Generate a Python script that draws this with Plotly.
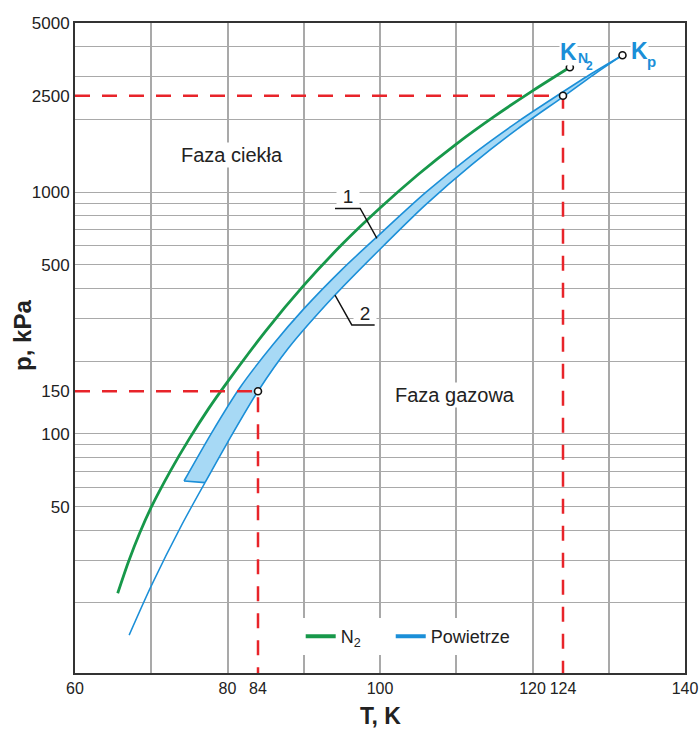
import numpy as np
import plotly.graph_objects as go

# ---------------- data ----------------
# N2 saturation line (T in K, p in kPa)
n2_T = [65.6, 67, 68.5, 70, 72.5, 75, 77.5, 80, 85, 90, 95, 100, 105, 110, 115, 120, 124.9]
n2_p = [21.9, 29.5, 39, 49.7, 70.1, 95.5, 126.8, 164, 266, 411, 606, 858, 1181, 1579, 2055, 2620, 3280]

# Air ("Powietrze"): line 1 (upper edge of band) and line 2 (lower edge)
air1_T = [74.3, 78, 81.6, 86, 90, 95, 100, 106, 112, 118, 123.2, 127.5, 131.8]
air1_p = [63.8, 101.9, 154.7, 234.5, 328.5, 477.7, 670, 996, 1418, 1946, 2500, 3055, 3680]
air2_T = [77.05, 80, 84, 88, 94.1, 100, 106, 112, 118, 124.2, 128, 131.8]
air2_p = [62.8, 92.0, 150, 226.3, 374.8, 580, 887, 1296, 1821, 2500, 3052, 3680]
# thin continuation of line 2 below the band
air2ext_T = [67.1, 70, 74, 77.05]
air2ext_p = [14.7, 23.5, 42.0, 62.8]

# marked points
guide_T = [84, 124]
guide_p = [150, 2500]
crit_N2 = (124.9, 3280)
crit_air = (131.8, 3680)

# leader lines for labels 1 and 2
lead1_T = [94.1, 97.4, 99.6]
lead1_p = [855, 855, 643]
lead2_T = [94.1, 96.3, 99.3]
lead2_p = [374.8, 282, 282]

# axes
x_range = [60, 140]
y_range = [10.25, 5000]
x_ticks = [60, 80, 84, 100, 120, 124, 140]
y_ticks = [50, 100, 150, 500, 1000, 2500, 5000]
x_grid = [70, 80, 90, 100, 110, 120, 130]
y_grid = [20, 30, 40, 50, 60, 70, 80, 90,
          100, 200, 300, 400, 500, 600, 700, 800, 900,
          1000, 2000, 3000, 4000]

# ---------------- styles ----------------
GREEN = "#17984a"
BLUE = "#1b8fd8"
FILL = "#a7d9f5"
RED = "#e8242a"
GRID = "#a9a9a9"
FONT = "Liberation Sans, Arial, sans-serif"
SP = "\u00a0"

fig = go.Figure()

# band fill between line 1 and line 2
band_T = air1_T + air2_T[::-1]
band_p = air1_p + air2_p[::-1]
fig.add_trace(go.Scatter(x=band_T, y=band_p, mode="lines", fill="toself",
                         fillcolor=FILL, line=dict(color=FILL, width=0),
                         showlegend=False, hoverinfo="skip"))
# band edges
for bt, bp in ((air1_T, air1_p), (air2_T, air2_p)):
    fig.add_trace(go.Scatter(x=bt, y=bp, mode="lines",
                             line=dict(color=BLUE, width=1.6, shape="spline", smoothing=0.8),
                             showlegend=False, hoverinfo="skip"))
fig.add_trace(go.Scatter(x=[air1_T[0], air2_T[0]], y=[air1_p[0], air2_p[0]],
                         mode="lines", line=dict(color=BLUE, width=1.6),
                         showlegend=False, hoverinfo="skip"))
fig.add_trace(go.Scatter(x=air2ext_T, y=air2ext_p, mode="lines",
                         line=dict(color=BLUE, width=1.5, shape="spline", smoothing=0.8),
                         showlegend=False, hoverinfo="skip"))
fig.add_trace(go.Scatter(x=n2_T, y=n2_p, mode="lines",
                         line=dict(color=GREEN, width=2.8, shape="spline", smoothing=0.8),
                         showlegend=False))

# red guide lines
for t, p in zip(guide_T, guide_p):
    fig.add_trace(go.Scatter(x=[x_range[0], t, t], y=[p, p, y_range[0]],
                             mode="lines",
                             line=dict(color=RED, width=2.5, dash="15px,12px"),
                             showlegend=False, hoverinfo="skip"))

# leader lines
for lt, lp in ((lead1_T, lead1_p), (lead2_T, lead2_p)):
    fig.add_trace(go.Scatter(x=lt, y=lp, mode="lines",
                             line=dict(color="#111111", width=1.4),
                             showlegend=False, hoverinfo="skip"))

# open circles
pts_T = guide_T + [crit_N2[0], crit_air[0]]
pts_p = guide_p + [crit_N2[1], crit_air[1]]
fig.add_trace(go.Scatter(x=pts_T, y=pts_p, mode="markers",
                         marker=dict(size=7, color="white",
                                     line=dict(color="#111111", width=1.6)),
                         showlegend=False))

# legend entries
fig.add_trace(go.Scatter(x=[None], y=[None], mode="lines",
                         name="N<sub>2</sub>" + SP * 5,
                         line=dict(color=GREEN, width=4)))
fig.add_trace(go.Scatter(x=[None], y=[None], mode="lines", name="Powietrze",
                         line=dict(color=BLUE, width=4)))

ann = []
def lg(v):
    return float(np.log10(v))

def txt(x, y, s, size, **kw):
    d = dict(x=x, y=lg(y), xref="x", yref="y", text=s, showarrow=False,
             xanchor="center", yanchor="middle",
             font=dict(family=FONT, size=size, color="#222222"))
    d.update(kw)
    return d

ann.append(txt(80.6, 1419, "Faza ciekła", 20, bgcolor="white"))
ann.append(txt(109.8, 145, "Faza gazowa", 20, bgcolor="white"))
ann.append(txt(95.8, 955, "1", 19, bgcolor="white", borderpad=0, height=17, width=22))
ann.append(txt(98.0, 313, "2", 19, bgcolor="white", borderpad=0, height=17, width=22))

# critical point labels
kfont = dict(family=FONT, size=23, color=BLUE)
def klab(pt, s, font, dx, dy, bg=None):
    d = dict(x=pt[0], y=lg(pt[1]), xref="x", yref="y", text=s, showarrow=False,
             xanchor="center", yanchor="middle", font=font, xshift=dx, yshift=dy)
    if bg:
        d.update(bgcolor=bg, borderpad=0)
    return d

ann.append(klab(crit_N2, "<b>K</b>", kfont, -1, 15, "white"))
ann.append(klab(crit_N2, "<b>N</b>", dict(family=FONT, size=14, color=BLUE), 13, 9, "white"))
ann.append(klab(crit_N2, "<b>2</b>", dict(family=FONT, size=12, color=BLUE), 20, 1))
ann.append(klab(crit_air, "<b>K</b>", kfont, 17, 4, "white"))
ann.append(klab(crit_air, "<b>p</b>", dict(family=FONT, size=15, color=BLUE), 29, -6))

# axis titles
ann.append(dict(x=-0.087, y=0.52, xref="paper", yref="paper",
                xanchor="center", yanchor="middle",
                text="<b>p, kPa</b>", textangle=-90, showarrow=False,
                font=dict(family=FONT, size=24, color="#222222")))
ann.append(dict(x=0.5, y=-0.066, xref="paper", yref="paper",
                xanchor="center", yanchor="middle",
                text="<b>T, K</b>", showarrow=False,
                font=dict(family=FONT, size=23, color="#222222")))

fig.update_layout(
    width=699, height=731,
    margin=dict(l=75, r=14, t=23, b=58, autoexpand=False),
    paper_bgcolor="white", plot_bgcolor="white",
    font=dict(family=FONT, size=17, color="#222222"),
    annotations=ann,
    legend=dict(orientation="h", x=0.37, y=0.056, xanchor="left",
                yanchor="middle", bgcolor="white",
                font=dict(family=FONT, size=18, color="#222222"),
                itemwidth=30),
)
fig.update_xaxes(range=x_range, tickvals=x_ticks,
                 ticktext=[str(v) for v in x_ticks], automargin=False,
                 ticklabeloverflow="allow",
                 showgrid=False, zeroline=False, ticks="",
                 showline=True, mirror=True, linecolor="#333333", linewidth=2,
                 tickfont=dict(size=16, color="#222222"),
                 minor=dict(tickvals=x_grid, showgrid=True, gridcolor=GRID,
                            gridwidth=1.6, ticks=""))
fig.update_yaxes(type="log", range=[lg(y_range[0]), lg(y_range[1])],
                 tickvals=y_ticks, ticktext=[str(v) for v in y_ticks],
                 automargin=False,
                 showgrid=False, zeroline=False, ticks="",
                 ticklabelstandoff=0,
                 showline=True, mirror=True, linecolor="#333333", linewidth=2,
                 tickfont=dict(size=17, color="#222222"),
                 minor=dict(tickvals=y_grid, showgrid=True, gridcolor=GRID,
                            gridwidth=1.3, ticks=""))

# remove the default page margin so the 699x731 figure fills the window exactly
fig.write_html("out.html",
               config={"displayModeBar": False},
               post_script="document.body.style.margin='0';"
                           "document.documentElement.style.overflow='hidden';")
